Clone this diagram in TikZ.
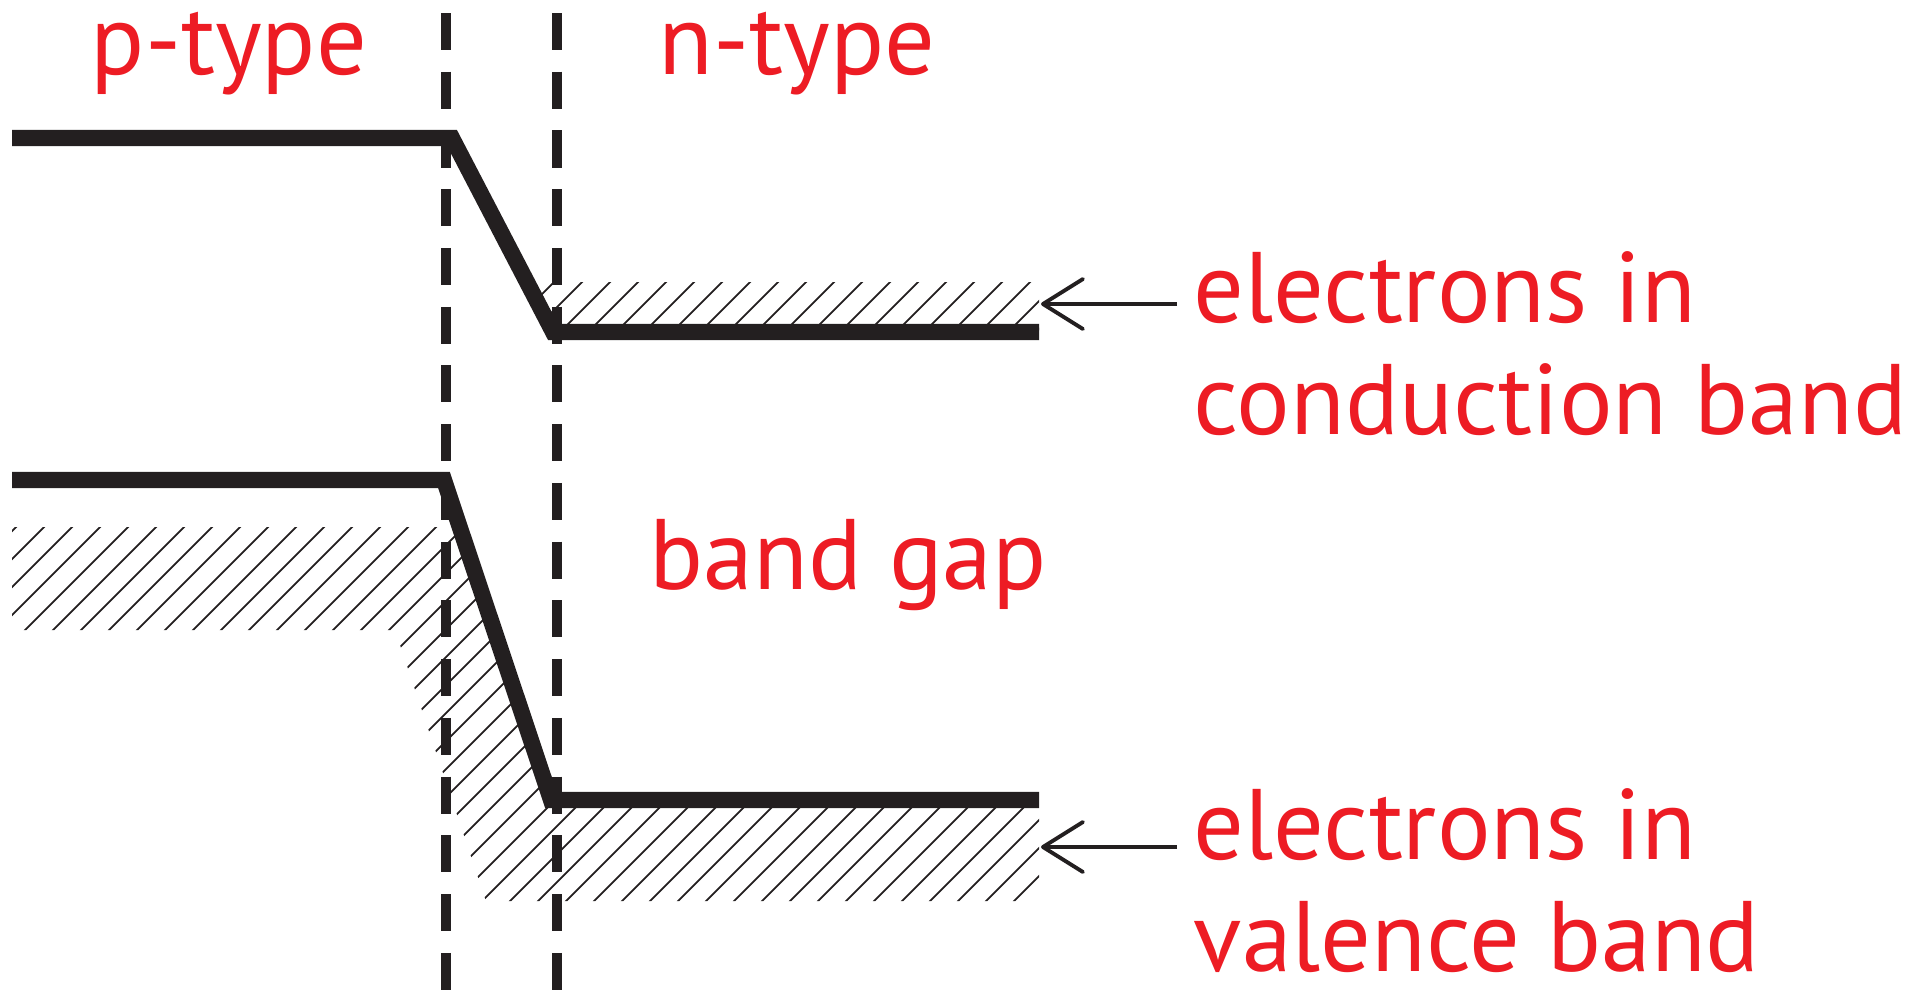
\documentclass[tikz,border=0pt]{standalone}
\usepackage{fontspec}
\setmainfont{PT Sans}
\usetikzlibrary{arrows.meta,calc}
\definecolor{cRed}{HTML}{ED1C24}
\definecolor{cInk}{HTML}{231F20}

\begin{document}
\begin{tikzpicture}[x=0.01cm,y=-0.01cm,
   band/.style={draw=cInk,line width=4.6pt,line join=miter},
   junction/.style={draw=cInk,line width=2.8pt,dash pattern=on 3.7mm off 2.17mm},
   hatch/.style={draw=cInk,line width=0.5pt},
   lbl/.style={text=cRed,inner sep=0pt,font=\fontsize{28.5}{31.6}\selectfont},
   pointer/.style={draw=cInk,line width=1.1pt,-{Straight Barb[length=4mm,width=5mm,round]}}]
  \useasboundingbox (0,0) rectangle (1932,990);
  \begin{scope}
    \clip (527,282) -- (1039,282) -- (1039,332) -- (553,332) -- cycle;
    \foreach \k in {28,...,49} \draw[hatch] (24+28*\k-400,400) -- (24+28*\k,0);
  \end{scope}
  \begin{scope}
    \clip (12,527) -- (463,527) -- (551,800) -- (1039,800) -- (1039,901) -- (486,901) -- (395,630) -- (12,630) -- cycle;
    \foreach \k in {19,...,70} \draw[hatch] (11+28*\k-1000,1000) -- (11+28*\k,0);
  \end{scope}
  \draw[junction] (446,13) -- (446,990);
  \draw[junction] (557,13) -- (557,990);
  \draw[band] (12,138) -- (452,138) -- (553,332) -- (1039,332);
  \draw[band] (12,480) -- (444,480) -- (551,800) -- (1039,800);
  \node[lbl,anchor=base] (ptype) at (229,74) {p-type};
  \node[lbl,anchor=base] (ntype) at (797,74) {n-type};
  \node[lbl,anchor=base west] (gap) at (649,589) {band gap};
  \node[lbl,anchor=base west,align=left] (cbtxt) at (1193,434) {electrons in\\conduction band};
  \node[lbl,anchor=base west,align=left] (vbtxt) at (1193,971) {electrons in\\valence band};
  \coordinate (cbtip) at (1041,304);
  \coordinate (vbtip) at (1041,847);
  \draw[pointer] ($(cbtxt.west |- cbtip)+(-16,0)$) -- (cbtip);
  \draw[pointer] ($(vbtxt.west |- vbtip)+(-16,0)$) -- (vbtip);
\end{tikzpicture}
\end{document}
